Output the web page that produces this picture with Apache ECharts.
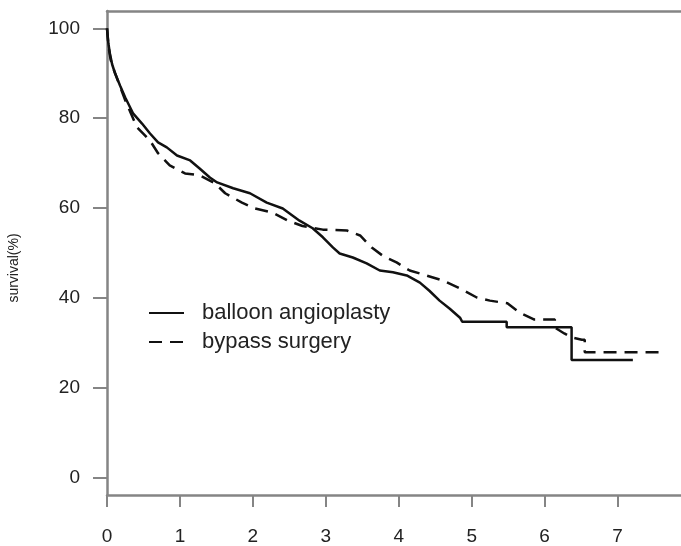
<!DOCTYPE html>
<html>
<head>
<meta charset="utf-8">
<script src="https://cdn.jsdelivr.net/npm/echarts@6/dist/echarts.min.js"></script>
<style>
  html, body { margin: 0; padding: 0; background: #fff; }
  #chart { width: 681px; height: 546px; }
</style>
</head>
<body>
<div id="chart"></div>
<script>
// Kaplan-Meier survival estimates (years, percent surviving).
// Dense event times are listed as they fall; the long flat stretches
// at the end are written out as explicit corners of the staircase.
const balloonAngioplasty = [
  [0, 100], [0.02, 96.5], [0.04, 94.4], [0.07, 92], [0.11, 90], [0.18, 87.2],
  [0.25, 84.6], [0.36, 81], [0.48, 78.8], [0.59, 76.6], [0.70, 74.6], [0.82, 73.5],
  [0.96, 71.7], [1.14, 70.6], [1.27, 68.8], [1.41, 66.8], [1.51, 65.7], [1.73, 64.4],
  [1.96, 63.3], [2.19, 61.2], [2.41, 59.9], [2.64, 57.2], [2.82, 55.5], [2.96, 53.5],
  [3.10, 51.2], [3.19, 49.9], [3.37, 49], [3.56, 47.7], [3.74, 46.1], [3.92, 45.7],
  [4.11, 45], [4.29, 43.4], [4.42, 41.6], [4.56, 39.4], [4.70, 37.6], [4.84, 35.6],
  [4.87, 34.7], [5.48, 34.7], [5.48, 33.5], [6.37, 33.5], [6.37, 26.2], [7.21, 26.2]
];
const bypassSurgery = [
  [0, 100], [0.02, 96], [0.05, 93], [0.10, 90.5], [0.18, 87], [0.25, 84],
  [0.33, 81], [0.41, 78], [0.50, 76.5], [0.59, 75], [0.70, 72.2], [0.86, 69.5],
  [1.07, 67.7], [1.27, 67.3], [1.48, 65.5], [1.62, 63.3], [1.85, 61.2], [2.03, 59.9],
  [2.27, 59], [2.48, 57.2], [2.68, 56], [2.96, 55.2], [3.29, 55], [3.47, 53.9],
  [3.63, 51.2], [3.78, 49.4], [3.97, 47.9], [4.15, 46.1], [4.38, 45], [4.60, 43.9],
  [4.84, 42.1], [5.07, 40.1], [5.25, 39.4], [5.49, 38.8], [5.66, 36.7], [5.86, 35.2],
  [6.14, 35.2], [6.14, 33.4], [6.27, 32.1], [6.37, 31.2], [6.51, 30.7], [6.55, 30.7],
  [6.55, 27.9], [7.60, 27.9]
];
const seriesNames = ['balloon angioplasty', 'bypass surgery'];
const xTicks = [0, 1, 2, 3, 4, 5, 6, 7];
const yTicks = [0, 20, 40, 60, 80, 100];
const yTitle = 'survival(%)';

const axisGray = '#858585';
const textColor = '#222';
const fontFamily = '"Liberation Sans", Arial, sans-serif';

const chart = echarts.init(document.getElementById('chart'), null, { renderer: 'canvas' });
chart.setOption({
  animation: false,
  backgroundColor: '#fff',
  grid: { left: 107, top: 11, right: 0, bottom: 51, containLabel: false, outerBoundsMode: 'none' },
  legend: {
    orient: 'vertical',
    left: 143,
    top: 297,
    itemWidth: 35,
    itemHeight: 14,
    itemGap: 7,
    data: seriesNames,
    itemStyle: { color: 'rgba(0,0,0,0)', borderColor: 'rgba(0,0,0,0)', borderWidth: 0, opacity: 0 },
    textStyle: { color: textColor, fontSize: 22, fontFamily, padding: [0, 0, 0, 13] }
  },
  xAxis: [{
    type: 'value',
    min: 0,
    max: 7.87,
    position: 'bottom',
    splitLine: { show: false },
    axisLine: { show: true, onZero: false, lineStyle: { color: axisGray, width: 2.5 } },
    axisTick: { show: true, customValues: xTicks, length: 12, inside: false, lineStyle: { color: axisGray, width: 2 } },
    axisLabel: { customValues: xTicks, margin: 32, color: textColor, fontSize: 19, fontFamily, showMinLabel: true, showMaxLabel: true }
  }, {
    type: 'value',
    min: 0,
    max: 7.87,
    position: 'top',
    splitLine: { show: false },
    axisLine: { show: true, onZero: false, lineStyle: { color: axisGray, width: 2.5 } },
    axisTick: { show: false },
    axisLabel: { show: false }
  }],
  yAxis: {
    type: 'value',
    min: -3.85,
    max: 103.85,
    splitLine: { show: false },
    axisLine: { show: true, onZero: false, lineStyle: { color: axisGray, width: 2.5 } },
    axisTick: { show: true, customValues: yTicks, length: 14, inside: false, lineStyle: { color: axisGray, width: 2 } },
    axisLabel: { customValues: yTicks, margin: 27, color: textColor, fontSize: 19, fontFamily }
  },
  graphic: [{
    type: 'text',
    x: 14,
    y: 268,
    rotation: Math.PI / 2,
    style: {
      text: yTitle,
      fill: textColor,
      font: '14px ' + fontFamily,
      textAlign: 'center',
      textVerticalAlign: 'middle'
    }
  }],
  series: [{
    name: seriesNames[0],
    type: 'line',
    symbol: 'none',
    data: balloonAngioplasty,
    lineStyle: { color: '#111', width: 2.5, type: 'solid' },
    itemStyle: { color: '#111' }
  }, {
    name: seriesNames[1],
    type: 'line',
    symbol: 'none',
    data: bypassSurgery,
    lineStyle: { color: '#111', width: 2.5, type: [13, 8] },
    itemStyle: { color: '#111' }
  }]
});
</script>
</body>
</html>
